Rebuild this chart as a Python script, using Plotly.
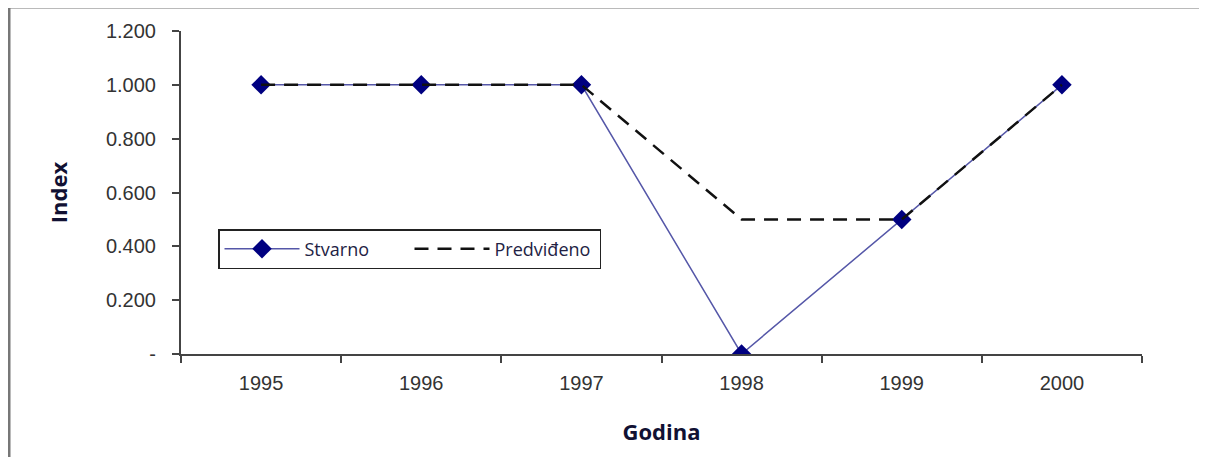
import plotly.graph_objects as go

years = ["1995", "1996", "1997", "1998", "1999", "2000"]
stvarno = [1.0, 1.0, 1.0, 0.0, 0.5, 1.0]
predvideno = [1.0, 1.0, 1.0, 0.5, 0.5, 1.0]
y_tickvals = [0, 0.2, 0.4, 0.6, 0.8, 1.0, 1.2]
y_ticktext = ["-", "0.200", "0.400", "0.600", "0.800", "1.000", "1.200"]

# page body has an 8px margin; compensate so page coords match the reference
OFF = 8
W, H = 1207 - OFF, 457 - OFF
L, R, T, B = 181 - OFF, 65, 31 - OFF, 103
pw, ph = W - L - R, H - T - B

def px_x(p):
    return (p - OFF - L) / pw

def px_y(p):
    return (H - B - (p - OFF)) / ph

fig = go.Figure()
fig.add_trace(go.Scatter(
    x=years, y=stvarno, name="Stvarno", mode="lines+markers",
    line=dict(color="#5557a8", width=1.5),
    marker=dict(symbol="diamond", size=15, color="#000080"),
))
fig.add_trace(go.Scatter(
    x=years, y=predvideno, name="Predviđeno", mode="lines",
    line=dict(color="#111111", width=2.5, dash="14px,9px"),
))

fig.update_layout(
    width=W, height=H,
    margin=dict(l=L, r=R, t=T, b=B),
    paper_bgcolor="white", plot_bgcolor="white",
    font=dict(family="Liberation Sans, Arial, sans-serif", size=20, color="#333333"),
    showlegend=True,
    legend=dict(
        orientation="h", x=px_x(218), y=px_y(229), xanchor="left", yanchor="top",
        bordercolor="#222222", borderwidth=1.5, bgcolor="white",
        font=dict(family="Open Sans, Noto Sans, sans-serif", size=18, color="#222244"),
        itemwidth=75, entrywidth=100, entrywidthmode="pixels",
    ),
    xaxis=dict(
        type="category", range=[-0.5, 5.5],
        showline=True, linecolor="#444444", linewidth=2,
        ticks="outside", ticklen=7, tickcolor="#444444", tickwidth=2,
        tickson="boundaries", showgrid=False, zeroline=False,
        ticklabelstandoff=10,
        tickfont=dict(size=20, color="#333333"),
        title=dict(text="<b>Godina</b>", standoff=32,
                   font=dict(family="Open Sans, Noto Sans, sans-serif", size=22, color="#111133")),
    ),
    yaxis=dict(
        range=[0, 1.2], tickvals=y_tickvals, ticktext=y_ticktext,
        showline=True, linecolor="#444444", linewidth=2,
        ticks="outside", ticklen=7, tickcolor="#444444", tickwidth=2,
        showgrid=False, zeroline=False, ticklabelstandoff=12,
        tickfont=dict(size=20, color="#333333"),
        title=dict(text="<b>Index</b>", standoff=32,
                   font=dict(family="Open Sans, Noto Sans, sans-serif", size=22, color="#111133")),
    ),
    shapes=[dict(
        type="rect", xref="paper", yref="paper",
        x0=px_x(9), x1=px_x(1230), y0=px_y(7), y1=px_y(480),
        line=dict(color="#777777", width=3), layer="below",
    )],
)

fig.write_html("out.html")
